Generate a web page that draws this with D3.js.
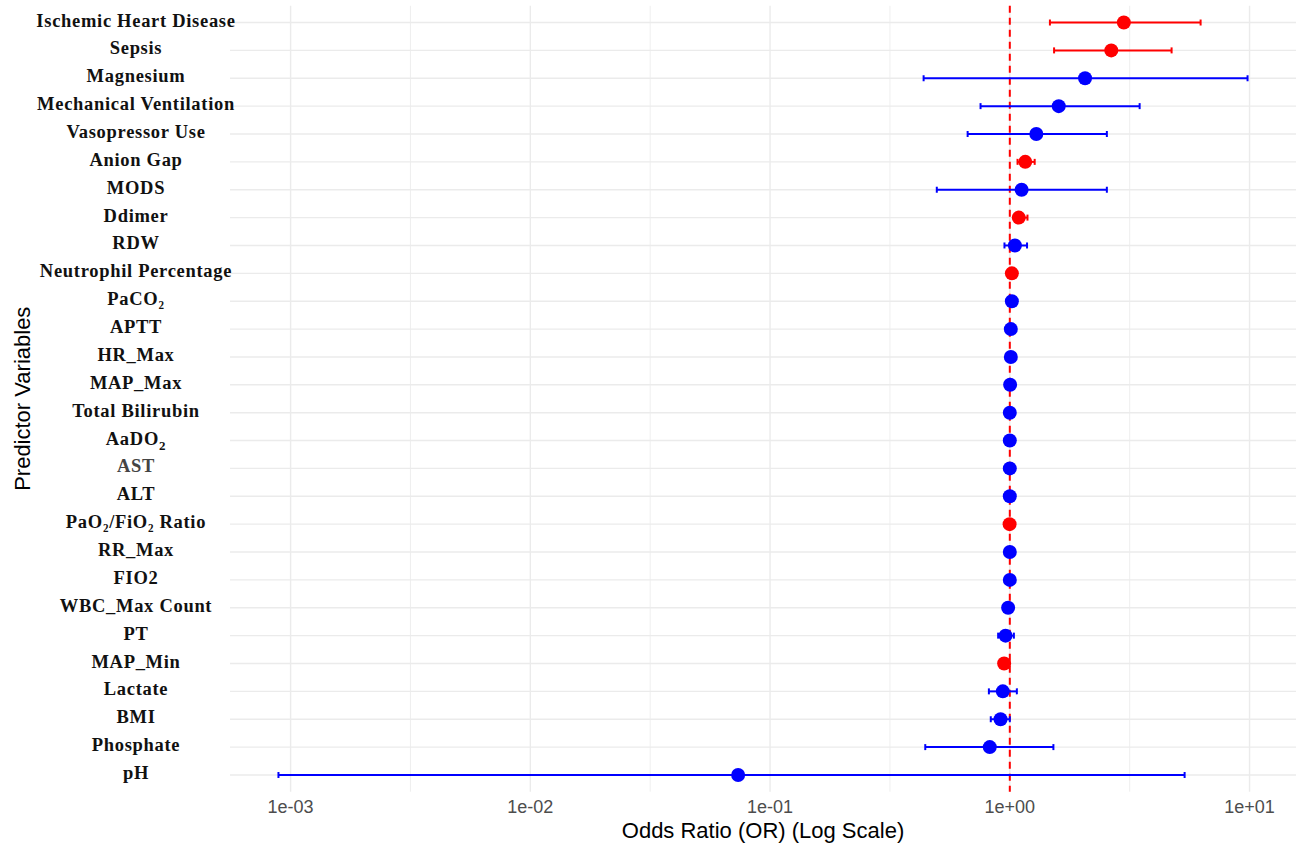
<!DOCTYPE html>
<html>
<head>
<meta charset="utf-8">
<script src="https://cdn.jsdelivr.net/npm/d3@7"></script>
<style>
  html, body { margin: 0; padding: 0; background: #ffffff; }
  svg { display: block; }
</style>
</head>
<body>
<svg id="chart" width="1296" height="846"></svg>
<script>
// Predictors, top to bottom
const predictors = [
  "Ischemic Heart Disease", "Sepsis", "Magnesium", "Mechanical Ventilation",
  "Vasopressor Use", "Anion Gap", "MODS", "Ddimer", "RDW",
  "Neutrophil Percentage", "PaCO₂", "APTT", "HR_Max", "MAP_Max",
  "Total Bilirubin", "AaDO2", "AST", "ALT", "PaO₂/FiO₂ Ratio", "RR_Max",
  "FIO2", "WBC_Max Count", "PT", "MAP_Min", "Lactate", "BMI", "Phosphate", "pH"
];
// Odds ratios and 95% confidence limits
const oddsRatio = [
  2.99, 2.65, 2.06, 1.60, 1.29, 1.16, 1.12, 1.09, 1.05,
  1.02, 1.02, 1.01, 1.01, 1.003, 1.0, 1.0, 1.0, 1.0, 0.998, 1.0,
  1.0, 0.984, 0.96, 0.947, 0.935, 0.915, 0.825, 0.0736
];
const ciLower = [
  1.47, 1.53, 0.437, 0.755, 0.667, 1.077, 0.496, 1.05, 0.95,
  1.01, 0.995, 0.997, 0.996, 0.998, 0.998, 0.998, 0.999, 0.999, 0.997, 0.997,
  0.996, 0.97, 0.894, 0.93, 0.818, 0.833, 0.444, 0.00089
];
const ciUpper = [
  6.25, 4.73, 9.81, 3.48, 2.54, 1.27, 2.54, 1.185, 1.18,
  1.03, 1.04, 1.02, 1.02, 1.008, 1.002, 1.002, 1.001, 1.001, 0.999, 1.004,
  1.005, 1.001, 1.04, 0.965, 1.07, 1.0, 1.52, 5.36
];
const xTicks = [1e-3, 1e-2, 1e-1, 1e0, 1e1];
const xMinorTicks = [Math.pow(10, -2.5), Math.pow(10, -1.5), Math.pow(10, -0.5), Math.pow(10, 0.5)];

const rows = predictors.map((name, i) => ({
  name, or: oddsRatio[i], lo: ciLower[i], hi: ciUpper[i],
  significant: ciLower[i] > 1 || ciUpper[i] < 1
}));

const svg = d3.select("#chart");
const panel = { left: 230, right: 1296, top: 5.8, bottom: 791.7 };

// Log-scale domain padded by 5% of the log range on each side
const logMin = Math.log10(d3.min(ciLower));
const logMax = Math.log10(d3.max(ciUpper));
const pad = (logMax - logMin) * 0.05;
const x = d3.scaleLog()
  .domain([Math.pow(10, logMin - pad), Math.pow(10, logMax + pad)])
  .range([panel.left, panel.right]);

const y = d3.scalePoint()
  .domain(predictors)
  .range([panel.top, panel.bottom])
  .padding(0.6);

const grid = svg.append("g");
// minor vertical grid
grid.selectAll("line.minor").data(xMinorTicks).enter().append("line")
  .attr("x1", d => x(d)).attr("x2", d => x(d))
  .attr("y1", panel.top).attr("y2", panel.bottom)
  .attr("stroke", "#ebebeb").attr("stroke-width", 0.8);
// major vertical grid
grid.selectAll("line.major").data(xTicks).enter().append("line")
  .attr("x1", d => x(d)).attr("x2", d => x(d))
  .attr("y1", panel.top).attr("y2", panel.bottom)
  .attr("stroke", "#ebebeb").attr("stroke-width", 1.4);
// horizontal grid per predictor
grid.selectAll("line.row").data(predictors).enter().append("line")
  .attr("x1", panel.left).attr("x2", panel.right)
  .attr("y1", d => y(d)).attr("y2", d => y(d))
  .attr("stroke", "#ebebeb").attr("stroke-width", 1.4);

// reference line at OR = 1
svg.append("line")
  .attr("x1", x(1)).attr("x2", x(1))
  .attr("y1", panel.top).attr("y2", panel.bottom)
  .attr("stroke", "#ff0000").attr("stroke-width", 2)
  .attr("stroke-dasharray", "7,5");

const colour = d => d.significant ? "#ff0000" : "#0000ff";
const marks = svg.append("g");
const capH = 3;

// horizontal error bars
marks.selectAll("line.ci").data(rows).enter().append("line")
  .attr("x1", d => x(d.lo)).attr("x2", d => x(d.hi))
  .attr("y1", d => y(d.name)).attr("y2", d => y(d.name))
  .attr("stroke", colour).attr("stroke-width", 2);
marks.selectAll("line.capl").data(rows).enter().append("line")
  .attr("x1", d => x(d.lo)).attr("x2", d => x(d.lo))
  .attr("y1", d => y(d.name) - capH).attr("y2", d => y(d.name) + capH)
  .attr("stroke", colour).attr("stroke-width", 2);
marks.selectAll("line.capr").data(rows).enter().append("line")
  .attr("x1", d => x(d.hi)).attr("x2", d => x(d.hi))
  .attr("y1", d => y(d.name) - capH).attr("y2", d => y(d.name) + capH)
  .attr("stroke", colour).attr("stroke-width", 2);

// point estimates
marks.selectAll("circle").data(rows).enter().append("circle")
  .attr("cx", d => x(d.or)).attr("cy", d => y(d.name))
  .attr("r", 7).attr("fill", colour);

// x axis tick labels
const fmt = v => {
  const e = Math.round(Math.log10(v));
  return "1e" + (e < 0 ? "-" : "+") + String(Math.abs(e)).padStart(2, "0");
};
svg.append("g").selectAll("text").data(xTicks).enter().append("text")
  .attr("x", d => x(d)).attr("y", 813)
  .attr("text-anchor", "middle")
  .attr("font-family", "Liberation Sans, Arial, sans-serif")
  .attr("font-size", 18).attr("fill", "#4d4d4d")
  .text(fmt);

// y axis labels
const labels = svg.append("g").selectAll("text").data(predictors).enter().append("text")
  .attr("x", 136).attr("y", d => y(d) + 4)
  .attr("text-anchor", "middle")
  .attr("font-family", "Liberation Serif, 'Times New Roman', serif")
  .attr("font-weight", "bold")
  .attr("font-size", 18.5)
  .attr("letter-spacing", 0.7)
  .attr("fill", d => d === "AST" ? "#444444" : "#111111");
labels.each(function(d) {
  const t = d3.select(this);
  if (d === "AaDO2") {
    t.append("tspan").text("AaDO");
    t.append("tspan").attr("font-size", 13).attr("dy", 5).text("2");
  } else {
    t.text(d);
  }
});

// axis titles
svg.append("text")
  .attr("x", (panel.left + panel.right) / 2).attr("y", 838)
  .attr("text-anchor", "middle")
  .attr("font-family", "Liberation Sans, Arial, sans-serif")
  .attr("font-size", 22).attr("fill", "#000000")
  .text("Odds Ratio (OR) (Log Scale)");
svg.append("text")
  .attr("transform", `translate(30, ${(panel.top + panel.bottom) / 2}) rotate(-90)`)
  .attr("text-anchor", "middle")
  .attr("font-family", "Liberation Sans, Arial, sans-serif")
  .attr("font-size", 22).attr("fill", "#000000")
  .text("Predictor Variables");
</script>
</body>
</html>
